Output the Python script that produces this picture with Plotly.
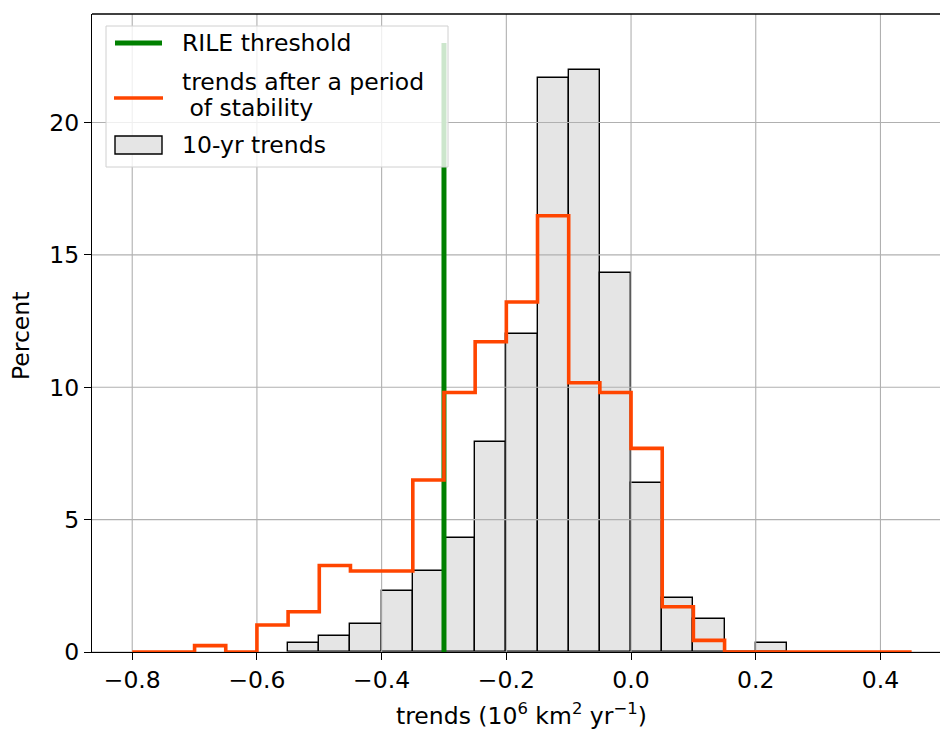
import numpy as np
import plotly.graph_objects as go

# ---- data -------------------------------------------------------------
bin_width = 0.05

# 10-yr trend histogram (percent per bin), bins starting at these left edges
trend_left_edges = [-0.55, -0.50, -0.45, -0.40, -0.35, -0.30, -0.25, -0.20,
                    -0.15, -0.10, -0.05, 0.00, 0.05, 0.10, 0.15, 0.20]
trend_percent = [0.34, 0.60, 1.05, 2.32, 3.07, 4.31, 7.93, 12.03,
                 21.67, 21.98, 14.31, 6.39, 2.03, 1.24, 0.00, 0.34]

# trends after a period of stability (step histogram), bins from -0.80 to 0.45
stable_left_edges = [-0.80, -0.75, -0.70, -0.65, -0.60, -0.55, -0.50, -0.45,
                     -0.40, -0.35, -0.30, -0.25, -0.20, -0.15, -0.10, -0.05,
                     0.00, 0.05, 0.10, 0.15, 0.20, 0.25, 0.30, 0.35, 0.40]
stable_percent = [0.00, 0.00, 0.24, 0.00, 1.02, 1.52, 3.27, 3.06,
                  3.06, 6.50, 9.80, 11.72, 13.22, 16.48, 10.17, 9.80,
                  7.69, 1.71, 0.44, 0.00, 0.00, 0.00, 0.00, 0.00, 0.00]

# RILE threshold marker
rile_threshold = -0.3
rile_top = 23.0

# axes
x_ticks = [-0.8, -0.6, -0.4, -0.2, 0.0, 0.2, 0.4]
y_ticks = [0, 5, 10, 15, 20]
x_range = [-0.8645, 0.4955]
y_range = [0.0, 24.1]

# ---- styling ----------------------------------------------------------
FONT = "DejaVu Sans"
FS = 23.5
W, H = 940, 732
L, R, T, B = 92, 0, 14, 80
GRID = "#b0b0b0"
BAR_FILL = "#e5e5e5"
GREEN = "#008000"
ORANGE = "#ff4500"


def px(x):
    """pixel x -> paper x"""
    return (x - L) / (W - L - R)


def py(y):
    """pixel y -> paper y"""
    return (H - B - y) / (H - B - T)


fig = go.Figure()

# grey histogram bars
centers = np.array(trend_left_edges) + bin_width / 2
fig.add_trace(go.Bar(
    x=centers, y=trend_percent, width=bin_width,
    marker=dict(color=BAR_FILL, line=dict(color="black", width=1.4)),
    showlegend=False, hoverinfo="skip",
))

# grid lines sit on top of the bars but beneath the lines
for xv in x_ticks:
    fig.add_trace(go.Scatter(x=[xv, xv], y=y_range, mode="lines",
                             line=dict(color=GRID, width=1.1),
                             showlegend=False, hoverinfo="skip"))
for yv in y_ticks:
    fig.add_trace(go.Scatter(x=x_range, y=[yv, yv], mode="lines",
                             line=dict(color=GRID, width=1.1),
                             showlegend=False, hoverinfo="skip"))

# RILE threshold
fig.add_trace(go.Scatter(x=[rile_threshold, rile_threshold], y=[0, rile_top],
                         mode="lines", line=dict(color=GREEN, width=5),
                         showlegend=False, hoverinfo="skip"))

# step outline for trends after a period of stability
step_x = list(stable_left_edges) + [stable_left_edges[-1] + bin_width]
step_y = list(stable_percent) + [stable_percent[-1]]
fig.add_trace(go.Scatter(x=step_x, y=step_y, mode="lines",
                         line=dict(color=ORANGE, width=3.6, shape="hv"),
                         showlegend=False, hoverinfo="skip"))

# ---- legend (drawn by hand) -------------------------------------------
shapes = []
annotations = []

shapes.append(dict(type="rect", xref="paper", yref="paper",
                   x0=px(106), x1=px(448), y0=py(167), y1=py(26),
                   fillcolor="rgba(255,255,255,0.8)",
                   line=dict(color="#d0d0d0", width=1), layer="above"))
shapes.append(dict(type="line", xref="paper", yref="paper",
                   x0=px(115), x1=px(162), y0=py(43), y1=py(43),
                   line=dict(color=GREEN, width=5), layer="above"))
shapes.append(dict(type="line", xref="paper", yref="paper",
                   x0=px(114), x1=px(163), y0=py(98), y1=py(98),
                   line=dict(color=ORANGE, width=3.6), layer="above"))
shapes.append(dict(type="rect", xref="paper", yref="paper",
                   x0=px(115), x1=px(162), y0=py(154), y1=py(136),
                   fillcolor=BAR_FILL, line=dict(color="black", width=1.4),
                   layer="above"))
# top spine
shapes.append(dict(type="line", xref="paper", yref="paper",
                   x0=0, x1=1, y0=1, y1=1,
                   line=dict(color="black", width=1.4), layer="above"))

for text, yc in [("RILE threshold", 43),
                 ("trends after a period", 82),
                 ("\u00a0of stability", 108),
                 ("10-yr trends", 145)]:
    annotations.append(dict(text=text, xref="paper", yref="paper",
                            x=px(180), y=py(yc), xanchor="left",
                            yanchor="middle", showarrow=False,
                            font=dict(family=FONT, size=FS, color="black")))

# axis titles
annotations.append(dict(text="trends (10<sup>6</sup> km<sup>2</sup> yr<sup>\u22121</sup>)",
                        xref="paper", yref="paper", x=px(521), y=py(714),
                        xanchor="center", yanchor="middle", showarrow=False,
                        font=dict(family=FONT, size=FS, color="black")))
annotations.append(dict(text="Percent", xref="paper", yref="paper",
                        x=px(21), y=py(336), xanchor="center",
                        yanchor="middle", textangle=-90, showarrow=False,
                        font=dict(family=FONT, size=FS, color="black")))

fig.update_layout(
    width=W, height=H,
    margin=dict(l=L, r=R, t=T, b=B, pad=0),
    paper_bgcolor="white", plot_bgcolor="white",
    font=dict(family=FONT, size=FS, color="black"),
    showlegend=False,
    bargap=0,
    shapes=shapes,
    annotations=annotations,
    xaxis=dict(range=x_range, tickvals=x_ticks, tickformat=".1f",
               showgrid=False, zeroline=False,
               showline=True, linecolor="black", linewidth=1.4,
               ticks="outside", ticklen=7, tickwidth=1.4, tickcolor="black",
               tickfont=dict(family=FONT, size=FS, color="black")),
    yaxis=dict(range=y_range, tickvals=y_ticks,
               showgrid=False, zeroline=False,
               showline=True, linecolor="black", linewidth=1.4,
               ticks="outside", ticklen=7, tickwidth=1.4, tickcolor="black",
               tickfont=dict(family=FONT, size=FS, color="black")),
)

fig.write_html("out.html")
